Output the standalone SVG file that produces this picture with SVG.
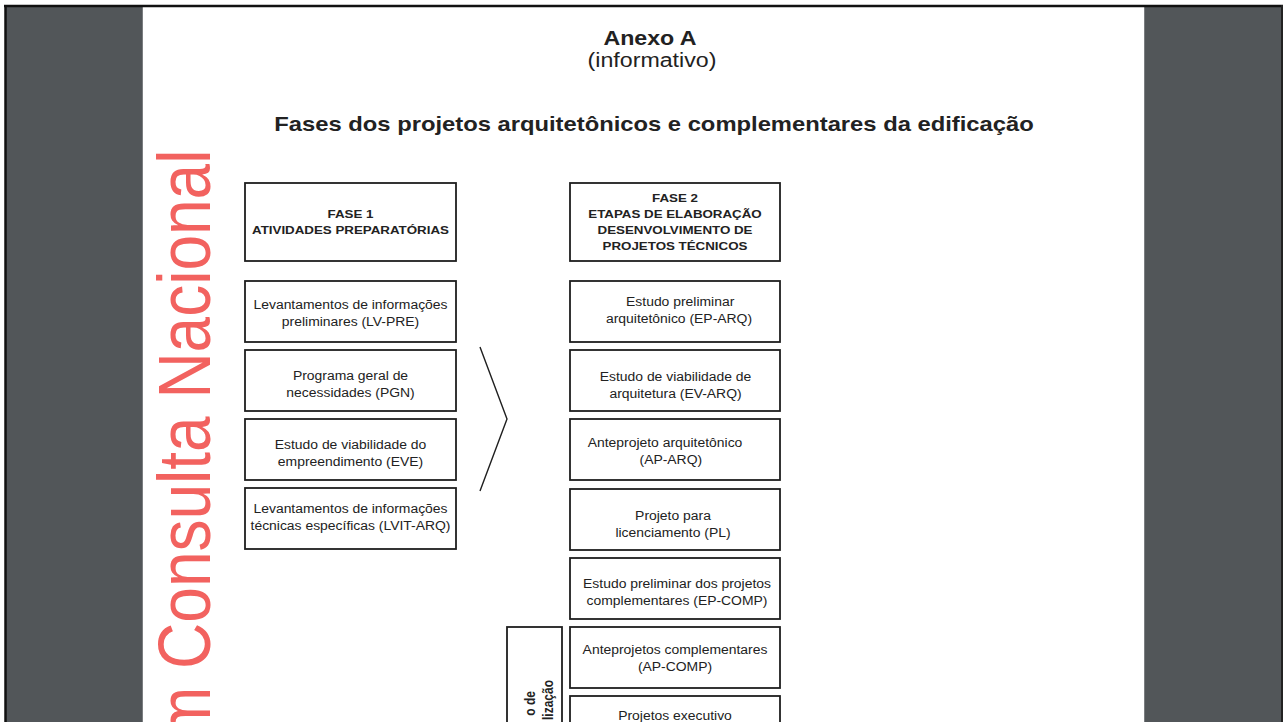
<svg xmlns="http://www.w3.org/2000/svg" width="1283" height="722" viewBox="0 0 1283 722">
<style>
.bg{fill:#525659}
.box{fill:#ffffff;stroke:#1e1e1e;stroke-width:1.8}
.t{font-family:"Liberation Sans",Arial,sans-serif;font-size:12px;fill:#222;text-anchor:middle}
.h{font-weight:bold;font-size:11.5px}
.vb{font-family:"Liberation Sans",Arial,sans-serif;font-weight:bold;font-size:12px;fill:#222;text-anchor:end}
.ttl{font-family:"Liberation Sans",Arial,sans-serif;fill:#222;text-anchor:middle}
.wm{font-family:"Liberation Sans",Arial,sans-serif;font-size:64px;fill:#f2625f}
.arrow{fill:none;stroke:#1e1e1e;stroke-width:1.4;stroke-linejoin:miter}
</style>
<rect x="0" y="0" width="1283" height="722" fill="#ffffff"/>
<rect class="bg" x="6" y="7" width="136" height="715"/>
<rect class="bg" x="1145" y="7" width="137" height="715"/>
<rect x="142" y="7" width="1003" height="715" fill="#ffffff"/>
<line x1="142.5" y1="7" x2="142.5" y2="722" stroke="#7a7d80" stroke-width="1"/>
<line x1="1144.5" y1="7" x2="1144.5" y2="722" stroke="#7a7d80" stroke-width="1"/>
<line x1="4" y1="6" x2="1283" y2="6" stroke="#111" stroke-width="2.5"/>
<line x1="5.5" y1="5" x2="5.5" y2="722" stroke="#111" stroke-width="2.5"/>
<line x1="1282" y1="5" x2="1282" y2="722" stroke="#222" stroke-width="2"/>

<text class="wm" transform="translate(210,740) rotate(-90) scale(1,1.16)">m Consulta Nacional</text>

<g id="header">
<text class="ttl" font-weight="bold" font-size="20" transform="translate(650,45) scale(1.16,1)">Anexo A</text>
<text class="ttl" font-size="20" transform="translate(652,67) scale(1.16,1)">(informativo)</text>
<text class="ttl" font-weight="bold" font-size="20.5" transform="translate(654,131) scale(1.16,1)">Fases dos projetos arquitetônicos e complementares da edificação</text>
</g>

<g id="fase1">
<rect class="box" x="245" y="183" width="211" height="78"/>
<text class="t h" transform="translate(350.5,218) scale(1.16,1)"><tspan x="0" y="0">FASE 1</tspan><tspan x="0" y="16">ATIVIDADES PREPARATÓRIAS</tspan></text>
</g>
<g id="lv-pre">
<rect class="box" x="245" y="281" width="211" height="61"/>
<text class="t" transform="translate(350.5,309) scale(1.16,1)"><tspan x="0" y="0">Levantamentos de informações</tspan><tspan x="0" y="17">preliminares (LV-PRE)</tspan></text>
</g>
<g id="pgn">
<rect class="box" x="245" y="350" width="211" height="61"/>
<text class="t" transform="translate(350.5,380) scale(1.16,1)"><tspan x="0" y="0">Programa geral de</tspan><tspan x="0" y="17">necessidades (PGN)</tspan></text>
</g>
<g id="eve">
<rect class="box" x="245" y="419" width="211" height="61"/>
<text class="t" transform="translate(350.5,449) scale(1.16,1)"><tspan x="0" y="0">Estudo de viabilidade do</tspan><tspan x="0" y="17">empreendimento (EVE)</tspan></text>
</g>
<g id="lvit-arq">
<rect class="box" x="245" y="488" width="211" height="61"/>
<text class="t" transform="translate(350.5,513) scale(1.16,1)"><tspan x="0" y="0">Levantamentos de informações</tspan><tspan x="0" y="17">técnicas específicas (LVIT-ARQ)</tspan></text>
</g>

<g id="fase2">
<rect class="box" x="570" y="183" width="210" height="78"/>
<text class="t h" transform="translate(675,202) scale(1.16,1)"><tspan x="0" y="0">FASE 2</tspan><tspan x="0" y="16">ETAPAS DE ELABORAÇÃO</tspan><tspan x="0" y="32">DESENVOLVIMENTO DE</tspan><tspan x="0" y="48">PROJETOS TÉCNICOS</tspan></text>
</g>
<g id="ep-arq">
<rect class="box" x="570" y="281" width="210" height="61"/>
<text class="t" transform="translate(679,306) scale(1.16,1)"><tspan x="1" y="0">Estudo preliminar</tspan><tspan x="0" y="17">arquitetônico (EP-ARQ)</tspan></text>
</g>
<g id="ev-arq">
<rect class="box" x="570" y="350" width="210" height="61"/>
<text class="t" transform="translate(675.5,381) scale(1.16,1)"><tspan x="0" y="0">Estudo de viabilidade de</tspan><tspan x="0" y="17">arquitetura (EV-ARQ)</tspan></text>
</g>
<g id="ap-arq">
<rect class="box" x="570" y="419" width="210" height="61"/>
<text class="t" transform="translate(665,447) scale(1.16,1)"><tspan x="0" y="0">Anteprojeto arquitetônico</tspan><tspan x="5" y="17">(AP-ARQ)</tspan></text>
</g>
<g id="pl">
<rect class="box" x="570" y="489" width="210" height="61"/>
<text class="t" transform="translate(673,520) scale(1.16,1)"><tspan x="0" y="0">Projeto para</tspan><tspan x="0" y="17">licenciamento (PL)</tspan></text>
</g>
<g id="ep-comp">
<rect class="box" x="570" y="558" width="210" height="61"/>
<text class="t" transform="translate(677,588) scale(1.16,1)"><tspan x="0" y="0">Estudo preliminar dos projetos</tspan><tspan x="0" y="17">complementares (EP-COMP)</tspan></text>
</g>
<g id="ap-comp">
<rect class="box" x="570" y="627" width="210" height="61"/>
<text class="t" transform="translate(675,654) scale(1.16,1)"><tspan x="0" y="0">Anteprojetos complementares</tspan><tspan x="0" y="17">(AP-COMP)</tspan></text>
</g>
<g id="pe">
<rect class="box" x="570" y="696" width="210" height="40"/>
<text class="t" transform="translate(675,720) scale(1.16,1)">Projetos executivo</text>
</g>
<g id="vertical-box">
<rect class="box" x="507" y="627" width="55" height="110"/>
<text class="vb" transform="translate(535,691) rotate(-90) scale(1,1.16)">o de</text>
<text class="vb" transform="translate(553,680) rotate(-90) scale(1,1.16)">lização</text>
</g>

<g id="connectors">
<polyline class="arrow" points="480,347 507,419 480,491"/>
</g>
</svg>
